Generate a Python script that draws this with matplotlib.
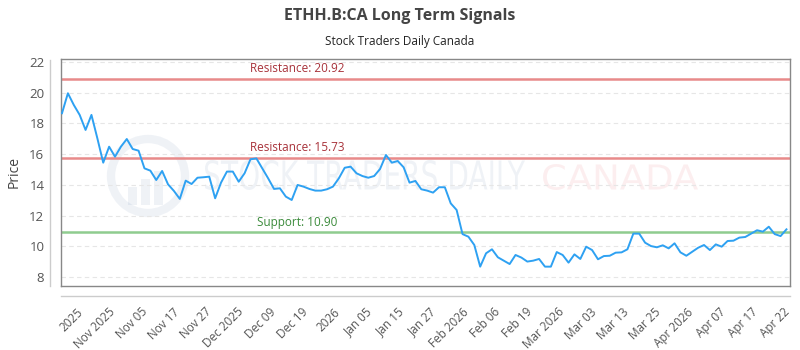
import numpy as np
import matplotlib
matplotlib.use("Agg")
import matplotlib.pyplot as plt
from matplotlib.lines import Line2D
from matplotlib.patches import Circle, Rectangle, PathPatch
from matplotlib.textpath import TextPath
from matplotlib.font_manager import FontProperties
from matplotlib.transforms import Affine2D

plt.rcParams['font.family'] = ['Open Sans', 'DejaVu Sans']

# closing prices, one per trading session
prices = [
    18.66, 19.96, 19.20, 18.55, 17.57, 18.55, 17.03, 15.44, 16.48, 15.83,
    16.48, 16.98, 16.33, 16.22, 15.07, 14.92, 14.31, 14.90, 14.03, 13.60,
    13.08, 14.27, 14.05, 14.46, 14.49, 14.53, 13.12, 14.14, 14.86, 14.86,
    14.20, 14.75, 15.66, 15.72, 15.07, 14.42, 13.73, 13.77, 13.23, 13.01,
    13.99, 13.88, 13.73, 13.62, 13.62, 13.71, 13.88, 14.42, 15.11, 15.18,
    14.75, 14.57, 14.46, 14.57, 15.03, 15.94, 15.44, 15.55, 15.14, 14.14,
    14.25, 13.71, 13.62, 13.49, 13.84, 13.84, 12.79, 12.36, 10.79, 10.62,
    10.08, 8.67, 9.54, 9.80, 9.28, 9.06, 8.84, 9.43, 9.26, 9.00,
    9.06, 9.17, 8.67, 8.67, 9.62, 9.43, 8.93, 9.47, 9.17, 9.97,
    9.75, 9.15, 9.36, 9.38, 9.58, 9.60, 9.80, 10.82, 10.82, 10.23,
    10.01, 9.93, 10.06, 9.86, 10.19, 9.60, 9.38, 9.64, 9.90, 10.08,
    9.75, 10.12, 9.97, 10.34, 10.36, 10.56, 10.60, 10.82, 11.04, 10.95,
    11.27, 10.79, 10.66, 11.10,
]

tick_labels = ["2025", "Nov 2025", "Nov 05", "Nov 17", "Nov 27", "Dec 2025",
               "Dec 09", "Dec 19", "2026", "Jan 05", "Jan 15", "Jan 27",
               "Feb 2026", "Feb 06", "Feb 19", "Mar 2026", "Mar 03", "Mar 13",
               "Mar 25", "Apr 2026", "Apr 07", "Apr 17", "Apr 22"]

resistances = [20.92, 15.73]
support = 10.90

x = np.arange(len(prices))

fig = plt.figure(figsize=(8, 3.5), dpi=100)
ax = fig.add_axes([61/800, 1 - 286/350, 729/800, 227/350])
ax.set_facecolor('none')


def watermark(s, x0, y0, w, h, color, alpha):
    # squeeze a text outline into a pixel box (origin bottom-left)
    tp = TextPath((0, 0), s, size=40, prop=FontProperties(family='DejaVu Sans'))
    bb = tp.get_extents()
    tr = Affine2D().translate(-bb.x0, -bb.y0).scale(w / bb.width, h / bb.height)
    tr = tr.translate(x0, 350 - y0)
    fig.add_artist(PathPatch(tr.transform_path(tp), transform=None, lw=0,
                             fc=color, alpha=alpha, zorder=0))


watermark("STOCK TRADERS DAILY", 205, 190, 320, 30, '#1f4e8c', 0.07)
watermark("CANADA", 543, 190, 155, 26, '#e0303a', 0.08)
fig.add_artist(Circle((148, 350 - 176), 37, transform=None, fill=False, lw=6,
                      ec='#1f4e8c', alpha=0.07, zorder=0))
for bx, bh in [(128, 18), (141, 26), (154, 34)]:
    fig.add_artist(Rectangle((bx, 350 - 205), 9, bh, transform=None,
                             fc='#1f4e8c', alpha=0.07, zorder=0))

ax.plot(x, prices, color='#2ea1f2', lw=1.4, zorder=3)

for r in resistances:
    ax.axhline(r, color='#e88a8a', lw=1.8, zorder=2)
    ax.text(40, r + 0.25, f"Resistance: {r:.2f}", color='#a8323a',
            fontsize=8.5, ha='center', va='bottom')
ax.axhline(support, color='#8fcc8f', lw=1.8, zorder=2)
ax.text(40, support + 0.25, f"Support: {support:.2f}", color='#3a8a3a',
        fontsize=8.5, ha='center', va='bottom')

ax.set_xlim(-0.17, 123.6)
ax.set_ylim(7.41, 22.19)
ax.set_yticks(np.arange(8, 23, 2))
ax.yaxis.grid(True, color='#e6e6e6', ls=(0, (4, 3)), lw=0.8)
ax.set_axisbelow(True)

ax.set_xticks(np.linspace(2.4, 122.4, len(tick_labels)))
ax.set_xticklabels(tick_labels, rotation=45, ha='right',
                   rotation_mode='anchor')
ax.tick_params(axis='both', length=0, colors='#555555')
ax.tick_params(axis='y', pad=12, labelsize=9.5)
ax.tick_params(axis='x', pad=14, labelsize=8.5)

for s in ax.spines.values():
    s.set_color('#888888')
    s.set_linewidth(1)

# detached axis lines
fig.add_artist(Line2D([50/800, 50/800], [1 - 60/350, 1 - 286/350],
                      color='#cccccc', lw=1))
fig.add_artist(Line2D([61/800, 790/800], [1 - 296/350, 1 - 296/350],
                      color='#cccccc', lw=1))

ax.set_ylabel("Price", fontsize=10, color='#444444')
ax.yaxis.set_label_coords(-39/729, 0.5)
fig.text(0.5, 1 - 16/350, "ETHH.B:CA Long Term Signals", ha='center',
         va='center', fontsize=11.5, fontweight='bold', color='#444444')
fig.text(0.5, 1 - 42/350, "Stock Traders Daily Canada", ha='center',
         va='center', fontsize=8.5, color='#222222')

fig.savefig("out.png", dpi=100)
